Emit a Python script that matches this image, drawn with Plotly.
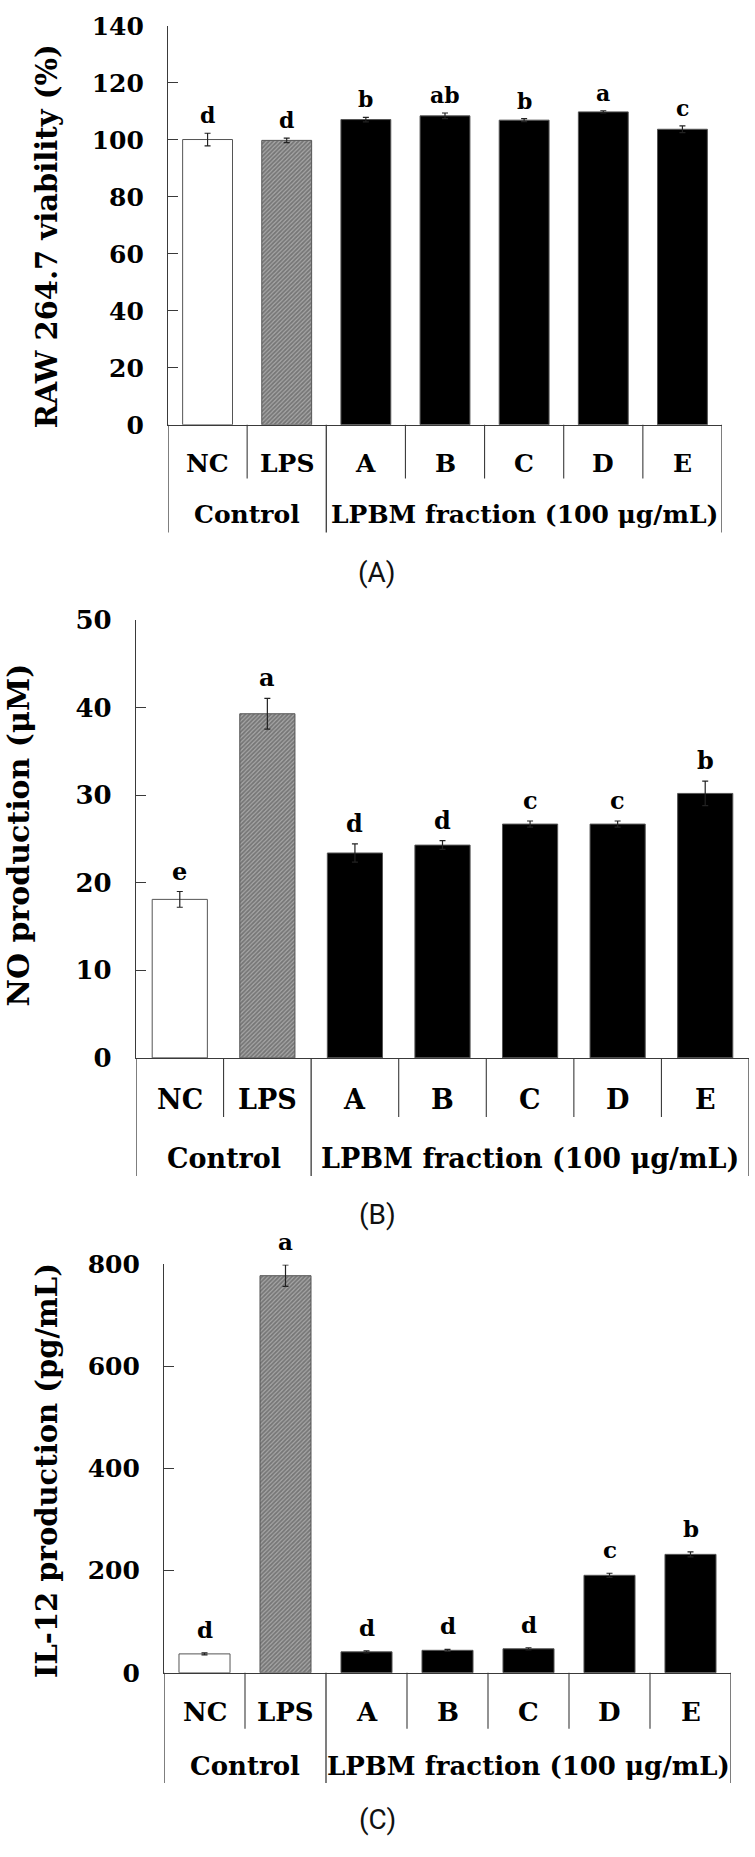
import plotly.graph_objects as go

# ---------------- data ----------------
categories = ["NC", "LPS", "A", "B", "C", "D", "E"]
group_names = ["Control", "LPBM fraction (100 μg/mL)"]
group_first = [0, 2]
group_last = [1, 6]

viability = [100.1, 99.8, 107.1, 108.4, 106.9, 109.8, 103.7]
viability_err = [2.2, 0.8, 0.8, 1.0, 0.5, 0.4, 1.2]
viability_sig = ["d", "d", "b", "ab", "b", "a", "c"]

no_prod = [18.1, 39.3, 23.4, 24.3, 26.7, 26.7, 30.2]
no_err = [0.9, 1.75, 1.05, 0.5, 0.35, 0.35, 1.4]
no_sig = ["e", "a", "d", "d", "c", "c", "b"]

il12 = [37, 778, 41, 44, 47, 191, 232]
il12_err = [2, 21, 2, 2, 2, 4, 5]
il12_sig = ["d", "a", "d", "d", "d", "c", "b"]

y_titles = ["RAW 264.7 viability (%)", "NO production (μM)", "IL-12 production (pg/mL)"]
y_max = [140, 50, 800]
y_step = [20, 10, 200]
panel_tags = ["(A)", "(B)", "(C)"]

# ---------------- layout (pixel geometry) ----------------
W, H = 755, 1857
SERIF = "DejaVu Serif"
panels = [
    dict(vals=viability, err=viability_err, sig=viability_sig, x0=168, x1=722, ytop=11, ybot=416.5,
         cat=456, inner=471, grp=508, outer=526, tag=567, title_x=47, title_y=225, title_fs=29,
         tick_fs=25, sig_fs=22, sig_gap=3, lab_fs=25),
    dict(vals=no_prod, err=no_err, sig=no_sig, x0=136, x1=749, ytop=615, ybot=1060,
         cat=1102, inner=1120, grp=1162, outer=1180, tag=1219, title_x=19, title_y=834, title_fs=30,
         tick_fs=26, sig_fs=24, sig_gap=4, lab_fs=27),
    dict(vals=il12, err=il12_err, sig=il12_sig, x0=164, x1=731, ytop=1270, ybot=1685,
         cat=1725, inner=1742, grp=1780, outer=1797, tag=1834, title_x=47, title_y=1480, title_fs=29,
         tick_fs=25, sig_fs=23, sig_gap=8, lab_fs=26),
]


def fx(px):
    return px / W


def fy(py):
    return 1 - py / H


bar_colors = ["white", "#a8a8a8"] + ["black"] * 5
bar_patterns = ["", "/"] + [""] * 5
line_col = "#3a3a3a"

fig = go.Figure()
shapes = []
annotations = []

for i, p in enumerate(panels):
    n = "" if i == 0 else str(i + 1)
    xa, ya = "x" + n, "y" + n
    fig.add_trace(go.Bar(
        x=categories, y=p["vals"], xaxis=xa, yaxis=ya, width=0.63,
        marker=dict(color=bar_colors, line=dict(color="#555555", width=1),
                    pattern=dict(shape=bar_patterns, fgcolor="#000000", size=3, solidity=0.6)),
        error_y=dict(type="data", array=p["err"], visible=True, color="#222222", thickness=1.2, width=3),
        showlegend=False, hoverinfo="skip",
    ))
    fig.update_layout(**{
        "xaxis" + n: dict(domain=[fx(p["x0"]), fx(p["x1"])], anchor=ya, type="category",
                          range=[-0.5, 6.5], showticklabels=False, ticks="", showgrid=False,
                          zeroline=False, showline=True, linecolor=line_col, linewidth=1.3),
        "yaxis" + n: dict(domain=[fy(p["ybot"]), fy(p["ytop"])], anchor=xa, range=[0, y_max[i]],
                          dtick=y_step[i], tick0=0, ticks="inside", ticklen=10, tickwidth=1.2,
                          tickcolor=line_col, showgrid=False, zeroline=False, showline=True,
                          linecolor=line_col, linewidth=1.3, ticklabelstandoff=18,
                          tickfont=dict(family=SERIF, size=p["tick_fs"], color="black", weight=700)),
    })
    # table lines below the axis
    full_len = [-0.5, 1.5, 6.5]
    short_len = [0.5, 2.5, 3.5, 4.5, 5.5]
    for xv in full_len:
        shapes.append(dict(type="line", xref=xa, yref="paper", x0=xv, x1=xv,
                           y0=fy(p["ybot"]), y1=fy(p["outer"]), line=dict(color=line_col, width=1.3)))
    for xv in short_len:
        shapes.append(dict(type="line", xref=xa, yref="paper", x0=xv, x1=xv,
                           y0=fy(p["ybot"]), y1=fy(p["inner"]), line=dict(color=line_col, width=1.1)))
    # category labels
    for j, c in enumerate(categories):
        annotations.append(dict(x=j, y=fy(p["cat"]), xref=xa, yref="paper", text=c, showarrow=False,
                                xanchor="center", yanchor="middle",
                                font=dict(family=SERIF, size=p["lab_fs"], color="black", weight=700)))
    for g, a, b in zip(group_names, group_first, group_last):
        annotations.append(dict(x=(a + b) / 2, y=fy(p["grp"]), xref=xa, yref="paper", text=g,
                                showarrow=False, xanchor="center", yanchor="middle",
                                font=dict(family=SERIF, size=p["lab_fs"], color="black", weight=700)))
    # significance letters
    for j, c in enumerate(categories):
        annotations.append(dict(x=c, y=p["vals"][j] + p["err"][j], xref=xa, yref=ya, text=p["sig"][j],
                                showarrow=False, xanchor="center", yanchor="bottom", yshift=p["sig_gap"],
                                font=dict(family=SERIF, size=p["sig_fs"], color="black", weight=700)))
    # y title
    annotations.append(dict(x=fx(p["title_x"]), y=fy(p["title_y"]),
                            xref="paper", yref="paper", text=y_titles[i], textangle=-90, showarrow=False,
                            xanchor="center", yanchor="middle",
                            font=dict(family=SERIF, size=p["title_fs"], color="black", weight=700)))
    # panel tag
    annotations.append(dict(x=fx(377), y=fy(p["tag"]), xref="paper", yref="paper", text=panel_tags[i],
                            showarrow=False, xanchor="center", yanchor="middle",
                            font=dict(family="Roboto, sans-serif", size=28, color="#111111")))

fig.update_layout(width=W, height=H, margin=dict(l=0, r=0, t=0, b=0), paper_bgcolor="white",
                  plot_bgcolor="white", bargap=0.37, shapes=shapes, annotations=annotations)

fig.write_html(
    "out.html",
    config={"displayModeBar": False},
    post_script="document.body.style.margin='0';document.body.style.overflow='hidden';"
                "document.documentElement.style.overflow='hidden';",
)
